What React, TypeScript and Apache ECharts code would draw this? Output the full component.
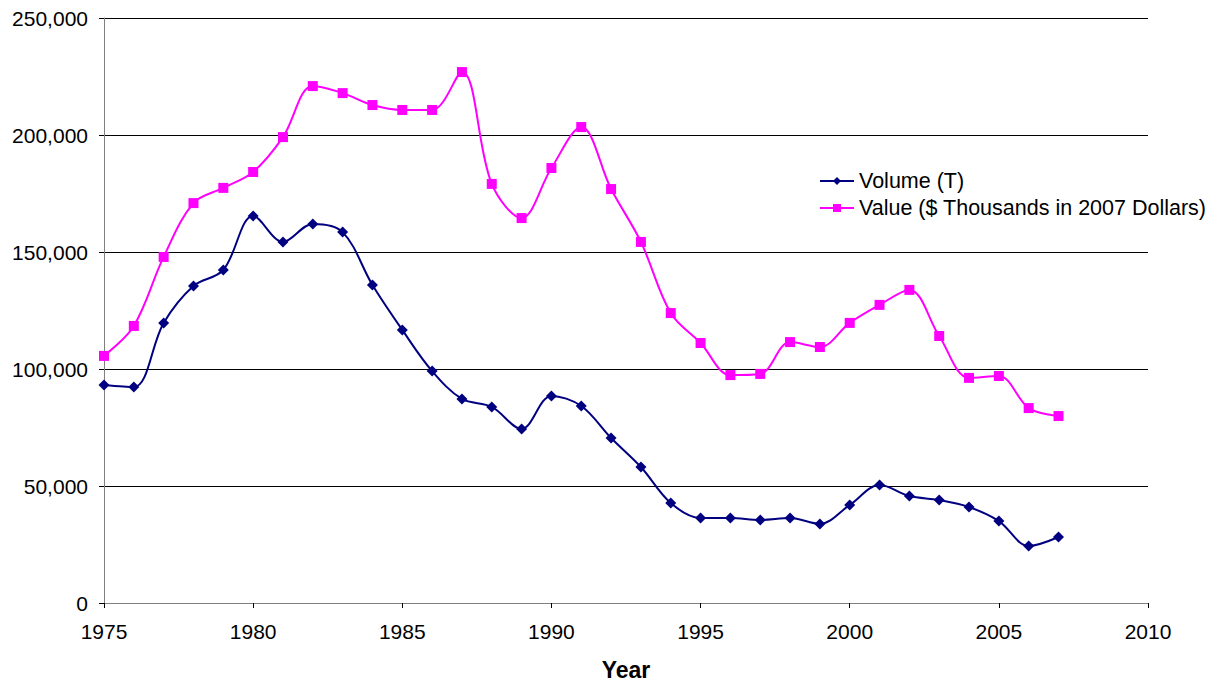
import React, { useEffect, useRef } from "react";
import * as echarts from "echarts";

const years = [1975,1976,1977,1978,1979,1980,1981,1982,1983,1984,1985,1986,1987,1988,1989,1990,1991,1992,1993,1994,1995,1996,1997,1998,1999,2000,2001,2002,2003,2004,2005,2006,2007];
const volume = [93200,92300,119700,135500,142300,165400,154300,162000,158500,135900,116700,99100,87200,83800,74400,88500,84200,70500,58100,42700,36300,36300,35500,36300,33800,41900,50400,45700,44000,41000,35000,24400,28200];
const value = [105600,118400,147900,170900,177400,184200,199100,220900,217900,212800,210700,210700,226900,179100,164500,185900,203400,176900,154300,123900,111100,97400,97900,111500,109400,119700,127400,133800,114100,96200,97000,83300,79900];

const FONT = "'Liberation Sans', Arial, sans-serif";

export default function App() {
  const ref = useRef<HTMLDivElement>(null);
  useEffect(() => {
    const chart = echarts.init(ref.current!, null, { renderer: "svg" });
    chart.setOption({
      animation: false,
      backgroundColor: "#ffffff",
      textStyle: { fontFamily: FONT },
      grid: { left: 104, right: 72, top: 18, bottom: 80, containLabel: false, outerBoundsMode: "none" },
      legend: {
        orient: "vertical",
        left: 814,
        top: 165,
        itemWidth: 34,
        itemHeight: 10,
        itemGap: 5,
        textStyle: { fontFamily: FONT, fontSize: 21.5, color: "#000" },
        data: ["Volume (T)", "Value ($ Thousands in 2007 Dollars)"],
      },
      xAxis: {
        type: "value",
        min: 1975,
        max: 2010,
        interval: 5,
        name: "Year",
        nameLocation: "middle",
        nameGap: 55,
        nameTextStyle: { fontFamily: FONT, fontSize: 23, fontWeight: "bold", color: "#000" },
        axisLine: { lineStyle: { color: "#808080", width: 1 } },
        axisTick: { show: true, inside: false, length: 5, lineStyle: { color: "#000" } },
        axisLabel: { fontFamily: FONT, fontSize: 21, color: "#000", margin: 18, formatter: (v: number) => String(v) },
        splitLine: { show: false },
      },
      yAxis: {
        type: "value",
        min: 0,
        max: 250000,
        interval: 50000,
        axisLine: { show: true, lineStyle: { color: "#808080", width: 1 } },
        axisTick: { show: true, length: 5, lineStyle: { color: "#000" } },
        axisLabel: {
          fontFamily: FONT,
          fontSize: 21,
          color: "#000",
          margin: 16,
          formatter: (v: number) => v.toLocaleString("en-US"),
        },
        splitLine: { show: true, lineStyle: { color: "#000", width: 1 } },
      },
      series: [
        {
          name: "Volume (T)",
          type: "line",
          smooth: 0.35,
          data: years.map((y, i) => [y, volume[i]]),
          symbol: "diamond",
          symbolSize: 11,
          itemStyle: { color: "#000080" },
          lineStyle: { color: "#000080", width: 2 },
          z: 3,
        },
        {
          name: "Value ($ Thousands in 2007 Dollars)",
          type: "line",
          smooth: 0.35,
          data: years.map((y, i) => [y, value[i]]),
          symbol: "rect",
          symbolSize: 10,
          itemStyle: { color: "#FF00FF" },
          lineStyle: { color: "#FF00FF", width: 2 },
          z: 2,
        },
      ],
    });
    return () => chart.dispose();
  }, []);
  return <div ref={ref} style={{ width: 1220, height: 683, position: "absolute", left: 0, top: 0 }} />;
}
